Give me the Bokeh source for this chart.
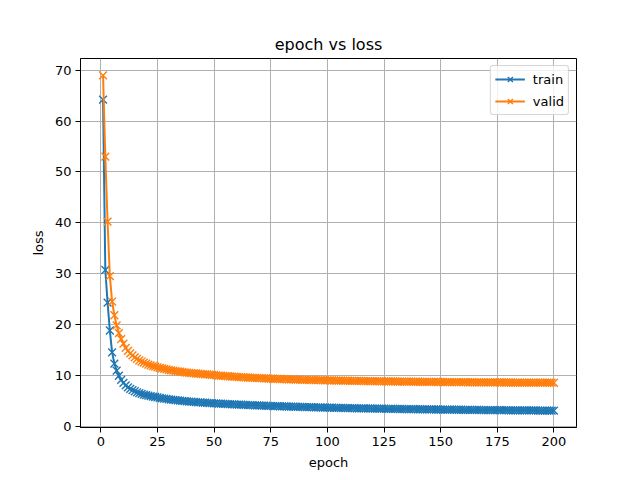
from bokeh.plotting import figure
from bokeh.models import Range1d, FixedTicker, Legend, LegendItem
from bokeh.embed import file_html
from bokeh.resources import INLINE

epochs = list(range(1, 201))

train_loss = [
    64.2, 30.7, 24.3, 18.8, 14.5, 12.3, 10.9, 9.9, 9.1, 8.5,
    8.0, 7.6, 7.3, 7.05, 6.85, 6.65, 6.5, 6.35, 6.2, 6.1,
    6.0, 5.9, 5.8, 5.72, 5.64, 5.55, 5.47, 5.4, 5.33, 5.27,
    5.21, 5.15, 5.1, 5.05, 5.0, 4.95, 4.91, 4.87, 4.83, 4.79,
    4.75, 4.72, 4.68, 4.65, 4.62, 4.59, 4.56, 4.53, 4.5, 4.47,
    4.45, 4.42, 4.4, 4.37, 4.35, 4.33, 4.3, 4.28, 4.26, 4.24,
    4.22, 4.2, 4.18, 4.16, 4.14, 4.12, 4.1, 4.08, 4.06, 4.05,
    4.03, 4.01, 3.99, 3.98, 3.96, 3.94, 3.93, 3.91, 3.9, 3.88,
    3.87, 3.85, 3.84, 3.82, 3.81, 3.8, 3.78, 3.77, 3.76, 3.74,
    3.73, 3.72, 3.71, 3.7, 3.68, 3.67, 3.66, 3.65, 3.64, 3.63,
    3.62, 3.61, 3.6, 3.59, 3.58, 3.57, 3.56, 3.55, 3.54, 3.53,
    3.52, 3.51, 3.5, 3.5, 3.49, 3.48, 3.47, 3.46, 3.46, 3.45,
    3.44, 3.43, 3.43, 3.42, 3.41, 3.4, 3.4, 3.39, 3.38, 3.38,
    3.37, 3.36, 3.36, 3.35, 3.34, 3.34, 3.33, 3.32, 3.32, 3.31,
    3.31, 3.3, 3.29, 3.29, 3.28, 3.28, 3.27, 3.26, 3.26, 3.25,
    3.25, 3.24, 3.24, 3.23, 3.23, 3.22, 3.22, 3.21, 3.21, 3.2,
    3.2, 3.19, 3.19, 3.18, 3.18, 3.17, 3.17, 3.16, 3.16, 3.15,
    3.15, 3.15, 3.14, 3.14, 3.13, 3.13, 3.12, 3.12, 3.12, 3.11,
    3.11, 3.1, 3.1, 3.1, 3.09, 3.09, 3.08, 3.08, 3.08, 3.07,
    3.07, 3.07, 3.06, 3.06, 3.06, 3.05, 3.05, 3.05, 3.04, 3.04,
]

valid_loss = [
    69.0, 53.0, 40.2, 29.5, 24.5, 21.8, 19.8, 18.3, 17.1, 16.2,
    15.4, 14.8, 14.3, 13.9, 13.5, 13.2, 12.9, 12.7, 12.5, 12.3,
    12.1, 11.95, 11.8, 11.7, 11.55, 11.45, 11.35, 11.25, 11.15, 11.05,
    10.97, 10.9, 10.83, 10.76, 10.7, 10.64, 10.58, 10.53, 10.48, 10.43,
    10.38, 10.34, 10.3, 10.26, 10.22, 10.18, 10.15, 10.11, 10.08, 10.05,
    9.97, 9.93, 9.9, 9.86, 9.83, 9.8, 9.77, 9.74, 9.71, 9.68,
    9.65, 9.62, 9.6, 9.57, 9.55, 9.52, 9.5, 9.48, 9.45, 9.43,
    9.41, 9.39, 9.37, 9.35, 9.33, 9.31, 9.29, 9.28, 9.26, 9.24,
    9.23, 9.21, 9.2, 9.18, 9.17, 9.15, 9.14, 9.13, 9.11, 9.1,
    9.09, 9.08, 9.07, 9.06, 9.05, 9.04, 9.03, 9.02, 9.01, 9.0,
    8.99, 8.98, 8.97, 8.96, 8.95, 8.94, 8.93, 8.92, 8.92, 8.91,
    8.9, 8.89, 8.88, 8.88, 8.87, 8.86, 8.85, 8.85, 8.84, 8.83,
    8.83, 8.82, 8.81, 8.81, 8.8, 8.79, 8.79, 8.78, 8.78, 8.77,
    8.76, 8.76, 8.75, 8.75, 8.74, 8.74, 8.73, 8.73, 8.72, 8.72,
    8.71, 8.71, 8.7, 8.7, 8.69, 8.69, 8.68, 8.68, 8.67, 8.67,
    8.67, 8.66, 8.66, 8.65, 8.65, 8.65, 8.64, 8.64, 8.63, 8.63,
    8.63, 8.62, 8.62, 8.62, 8.61, 8.61, 8.61, 8.6, 8.6, 8.6,
    8.59, 8.59, 8.59, 8.58, 8.58, 8.58, 8.58, 8.57, 8.57, 8.57,
    8.57, 8.56, 8.56, 8.56, 8.56, 8.55, 8.55, 8.55, 8.55, 8.55,
    8.54, 8.54, 8.54, 8.54, 8.53, 8.53, 8.53, 8.53, 8.53, 8.52,
]

x_ticks = [0, 25, 50, 75, 100, 125, 150, 175, 200]
y_ticks = [0, 10, 20, 30, 40, 50, 60, 70]

FONT = "DejaVu Sans"
BLUE = "#1f77b4"
ORANGE = "#ff7f0e"

p = figure(width=632, height=472, output_backend="svg", toolbar_location=None,
           x_range=Range1d(-8.95, 209.95), y_range=Range1d(-0.28, 72.3),
           min_border_left=80, min_border_right=56, min_border_top=58, min_border_bottom=45,
           title="epoch vs loss")

p.title.align = "center"
p.title.text_font = FONT
p.title.text_font_size = "16px"
p.title.text_font_style = "normal"
p.title.text_color = "black"
p.title.offset = 0

p.outline_line_color = "black"
p.outline_line_width = 1
p.background_fill_color = "white"
p.border_fill_color = "white"

for ax in (p.xaxis[0], p.yaxis[0]):
    ax.axis_label_text_font = FONT
    ax.axis_label_text_font_size = "13px"
    ax.axis_label_text_font_style = "normal"
    ax.axis_label_text_color = "black"
    ax.major_label_text_font = FONT
    ax.major_label_text_font_size = "13px"
    ax.major_label_text_color = "black"
    ax.major_tick_out = 5
    ax.major_tick_in = 0
    ax.minor_tick_out = 0
    ax.minor_tick_in = 0
    ax.axis_line_color = "black"
    ax.major_tick_line_color = "black"

p.xaxis[0].ticker = FixedTicker(ticks=x_ticks)
p.yaxis[0].ticker = FixedTicker(ticks=y_ticks)
p.xaxis[0].axis_label = "epoch"
p.yaxis[0].axis_label = "loss"
p.xaxis[0].axis_label_standoff = 6
p.yaxis[0].axis_label_standoff = 6
p.xaxis[0].major_label_standoff = 4
p.yaxis[0].major_label_standoff = 4

p.grid.grid_line_color = "#b0b0b0"
p.grid.grid_line_width = 1

l1 = p.line(epochs, train_loss, line_color=BLUE, line_width=2)
s1 = p.scatter(epochs, train_loss, marker="x", size=11, line_color=BLUE, line_width=1.4)
l2 = p.line(epochs, valid_loss, line_color=ORANGE, line_width=2)
s2 = p.scatter(epochs, valid_loss, marker="x", size=11, line_color=ORANGE, line_width=1.4)

legend = Legend(items=[LegendItem(label="train", renderers=[l1, s1]),
                       LegendItem(label="valid", renderers=[l2, s2])],
                location="top_right")
legend.label_text_font = FONT
legend.label_text_font_size = "13px"
legend.label_text_color = "black"
legend.border_line_color = "#cccccc"
legend.border_line_alpha = 0.8
legend.background_fill_alpha = 0.8
legend.border_radius = 3
legend.glyph_width = 30
legend.glyph_height = 18
legend.label_standoff = 8
legend.label_height = 18
legend.spacing = 4
legend.padding = 4
legend.margin = 7
p.add_layout(legend, "center")

open("out.html", "w").write(file_html(p, INLINE))
